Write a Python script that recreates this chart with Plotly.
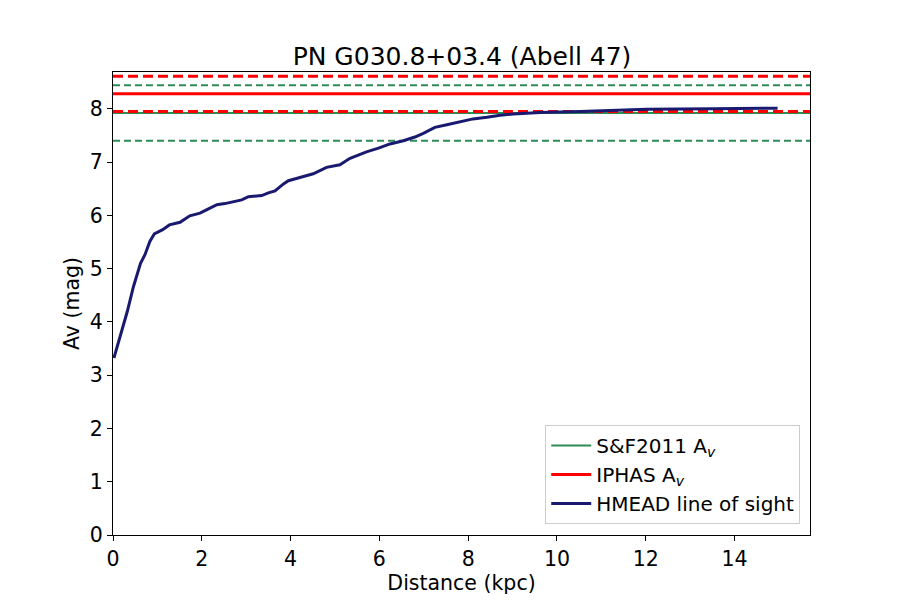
import plotly.graph_objects as go

# HMEAD extinction along the line of sight
distance_kpc = [0.02, 0.20, 0.32, 0.46, 0.62, 0.72, 0.83, 0.93, 1.12, 1.27, 1.51,
                1.73, 1.96, 2.15, 2.34, 2.52, 2.71, 2.90, 3.05, 3.35, 3.50, 3.65,
                3.84, 3.95, 4.21, 4.51, 4.81, 5.11, 5.34, 5.71, 5.98, 6.24, 6.54,
                6.80, 6.99, 7.25, 7.52, 7.82, 8.11, 8.42, 8.72, 9.02, 9.62, 10.52,
                11.3, 12.02, 13.5, 14.97]
av_hmead = [3.32, 3.85, 4.19, 4.66, 5.10, 5.26, 5.51, 5.65, 5.73, 5.82, 5.87,
            5.99, 6.04, 6.12, 6.20, 6.22, 6.26, 6.29, 6.35, 6.37, 6.42, 6.46,
            6.59, 6.65, 6.71, 6.78, 6.90, 6.95, 7.07, 7.19, 7.26, 7.34, 7.40,
            7.47, 7.54, 7.65, 7.70, 7.76, 7.81, 7.84, 7.88, 7.90, 7.93, 7.95,
            7.97, 7.99, 8.00, 8.01]

# Schlafly & Finkbeiner 2011 and IPHAS values (value, lower, upper)
sf2011_av = 7.92
sf2011_err = [7.40, 8.44]
iphas_av = 8.28
iphas_err = [7.95, 8.61]

x_max = 15.7
y_max = 8.69

GREEN = "#2e8b57"
RED = "#ff0000"
NAVY = "#191970"

fig = go.Figure()

fig.add_hline(y=sf2011_av, line=dict(color=GREEN, width=2), layer="below")
for v in sf2011_err:
    fig.add_hline(y=v, line=dict(color=GREEN, width=2, dash="7px,4px"), layer="below")
fig.add_hline(y=iphas_av, line=dict(color=RED, width=3), layer="below")
for v in iphas_err:
    fig.add_hline(y=v, line=dict(color=RED, width=3, dash="10px,5px"), layer="below")

# legend entries for the horizontal lines
fig.add_trace(go.Scatter(x=[None], y=[None], mode="lines",
                         line=dict(color=GREEN, width=2),
                         name="S&F2011 A<sub><i>v</i></sub>"))
fig.add_trace(go.Scatter(x=[None], y=[None], mode="lines",
                         line=dict(color=RED, width=3),
                         name="IPHAS A<sub><i>v</i></sub>"))
fig.add_trace(go.Scatter(x=distance_kpc, y=av_hmead, mode="lines",
                         line=dict(color=NAVY, width=3),
                         name="HMEAD line of sight"))

font = "DejaVu Sans"
axis_common = dict(
    showline=True, linecolor="black", linewidth=1.2, mirror=True,
    ticks="outside", ticklen=5, tickcolor="black", showgrid=False,
    zeroline=False, tickfont=dict(size=20.5, color="black"),
)

# the page body adds an 8px offset, so margins are shifted to compensate
fig.update_layout(
    width=900, height=600,
    margin=dict(l=105, r=98, t=64, b=73),
    paper_bgcolor="white", plot_bgcolor="white",
    font=dict(family=font, color="black"),
    title=dict(text="PN G030.8+03.4 (Abell 47)", x=(462 - 8) / 900, xanchor="center",
               y=1 - 48 / 600, yanchor="middle", font=dict(size=25)),
    xaxis=dict(range=[0, x_max], dtick=2,
               title=dict(text="Distance (kpc)", font=dict(size=20.5), standoff=1),
               **axis_common),
    yaxis=dict(range=[0, y_max], dtick=1,
               title=dict(text="Av (mag)", font=dict(size=20.5), standoff=4),
               **axis_common),
    legend=dict(x=0.986, y=0.024, xanchor="right", yanchor="bottom",
                bgcolor="rgba(255,255,255,0.8)", bordercolor="#cccccc",
                borderwidth=1, font=dict(size=20), itemwidth=40,
                tracegroupgap=4),
    showlegend=True,
)

fig.write_html("out.html")
